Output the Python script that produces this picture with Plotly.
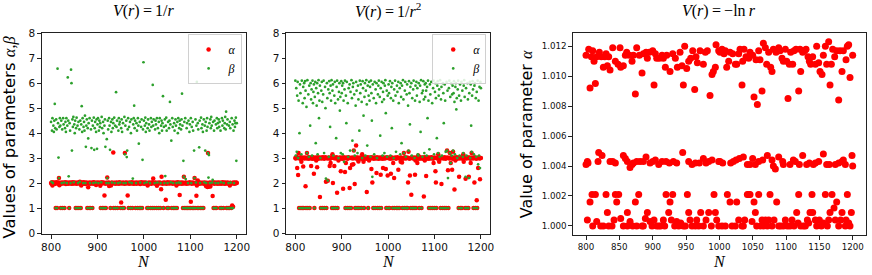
import plotly.graph_objects as go

# ---------------- data ----------------
N = list(range(800, 1201))

# Panel 1: V(r) = 1/r
alpha_inv_r = [
 2.0,1.97,2.03,1.9,2.0,1.98,2.02,2.0,1.96,2.01,1.0,2.0,2.03,1.0,1.98,2.0,2.02,2.2,1.91,2.0,
 2.0,1.0,1.97,2.02,2.0,1.0,2.01,1.98,2.0,1.0,2.03,2.0,1.96,2.0,2.02,1.99,2.0,1.97,2.01,1.0,
 2.0,2.02,1.98,2.0,2.01,1.97,2.0,2.03,1.99,2.0,1.98,2.02,2.0,1.0,2.0,1.97,1.0,2.02,2.0,1.98,
 1.0,2.01,2.05,2.0,1.0,1.9,2.02,2.0,1.97,2.0,2.03,1.98,2.0,2.01,1.96,2.0,2.02,1.99,1.0,2.0,
 1.83,2.0,1.0,2.02,1.97,1.0,2.0,2.01,1.98,1.0,2.0,2.03,1.97,2.0,2.02,1.99,2.0,1.92,2.01,2.0,
 1.98,2.02,2.0,1.97,2.0,2.01,1.89,1.0,2.0,2.03,1.98,1.0,2.0,2.02,1.0,1.5,2.0,1.97,1.0,2.01,
 2.0,2.22,1.98,2.0,2.02,1.88,2.0,1.97,1.0,1.9,2.0,2.02,1.98,2.0,3.22,1.0,2.01,2.0,1.97,1.0,
 2.0,2.02,1.98,1.0,2.0,2.01,1.97,2.0,2.03,1.99,1.0,1.22,2.0,1.98,1.0,2.02,2.0,1.0,1.97,3.2,
 2.0,2.02,1.98,2.0,2.01,1.5,2.0,1.0,1.97,2.02,2.0,1.0,1.98,2.0,2.03,1.0,2.0,1.97,2.01,2.0,
 1.98,2.0,1.0,2.02,1.97,2.0,1.0,2.01,1.99,2.0,1.0,2.02,1.96,1.0,2.0,2.03,1.0,1.98,2.0,2.01,
 2.0,1.97,2.02,2.0,1.98,2.01,2.0,1.0,1.9,2.0,1.0,2.02,1.98,2.0,1.0,2.01,1.97,2.0,1.0,2.03,
 2.18,2.0,1.0,1.98,2.0,2.02,1.97,1.0,1.89,2.0,2.01,1.0,2.0,1.98,2.02,1.0,2.0,1.75,2.25,2.0,
 1.97,2.0,1.0,2.02,2.0,1.98,2.01,1.33,2.0,1.97,1.0,2.03,2.0,1.0,1.98,2.0,2.02,1.99,2.0,2.01,
 1.0,2.0,1.97,2.02,1.0,2.0,1.98,1.0,2.01,2.0,1.9,1.0,2.03,2.0,1.97,2.0,2.02,1.52,1.98,2.0,
 2.01,2.0,1.97,2.02,1.0,2.0,2.25,1.98,1.0,2.0,2.02,1.0,1.97,2.0,1.0,2.01,1.98,1.0,2.0,2.03,
 1.0,1.25,2.0,1.97,1.0,2.02,2.0,1.0,1.98,2.2,1.0,2.0,2.01,1.49,1.9,1.0,2.1,2.0,1.0,1.97,
 2.0,2.02,1.0,1.98,2.0,1.0,2.01,2.0,1.0,1.97,2.02,2.0,1.98,2.0,1.87,2.01,2.0,1.84,3.2,1.85,
 2.0,1.97,2.02,1.86,2.0,1.98,2.01,2.0,1.48,2.03,1.0,1.97,2.0,1.0,2.02,1.98,1.0,2.0,2.01,1.97,
 2.0,2.02,1.98,2.0,1.0,2.01,1.97,1.0,2.0,2.03,1.98,1.0,2.0,2.02,1.97,2.0,2.01,1.98,1.0,2.0,
 2.02,1.0,1.97,2.0,1.0,1.9,2.01,2.0,1.0,1.98,1.1,2.0,1.05,2.02,1.97,2.0,2.01,1.98,2.0,2.02,
 2.0,
]
beta_inv_r = [
 4.45,2.05,4.1,4.6,2.0,4.3,4.05,4.5,5.17,4.2,1.0,4.55,4.15,1.0,6.58,4.4,3.02,2.2,4.25,4.6,
 4.3,1.0,4.5,2.0,4.15,1.0,4.6,4.35,2.02,1.0,4.2,4.45,4.05,4.6,2.0,4.3,6.23,4.5,2.27,1.0,
 4.4,4.1,2.0,6.54,6.0,3.3,4.55,4.25,4.65,2.03,4.35,4.0,4.5,1.0,4.2,4.62,1.0,4.3,2.0,4.45,
 1.0,4.15,2.05,4.5,1.0,4.35,5.08,4.05,4.6,2.0,4.25,4.45,4.1,4.7,2.0,3.45,4.3,4.55,1.0,4.2,
 3.79,4.4,1.0,4.6,2.0,1.0,4.15,3.4,4.5,1.0,4.3,2.0,4.62,3.33,4.2,4.45,2.02,4.05,4.55,3.37,
 4.35,4.6,2.0,4.1,4.5,4.25,4.4,1.0,2.03,4.65,4.2,1.0,4.45,4.0,1.0,4.3,4.55,3.45,1.0,2.0,
 3.76,2.2,4.5,4.15,2.0,4.6,4.3,3.33,1.0,4.45,4.05,2.02,4.55,4.2,4.4,1.0,4.62,2.0,4.3,1.0,
 5.64,4.25,4.5,1.0,2.0,4.1,4.6,4.35,4.45,2.02,1.0,4.2,4.55,4.05,1.0,4.4,2.0,1.0,4.65,3.15,
 4.3,2.0,4.5,3.04,3.3,4.15,4.6,1.0,4.25,2.03,4.45,1.0,4.0,4.55,2.0,1.0,2.18,4.35,4.6,5.1,
 4.2,4.5,1.0,2.0,4.4,4.1,1.0,4.6,4.3,3.58,1.0,4.45,2.02,1.0,4.25,4.55,1.0,2.93,4.15,6.84,
 4.5,2.0,4.3,4.62,4.05,4.4,2.03,1.0,4.2,4.55,1.0,4.35,4.1,2.0,1.0,4.6,4.25,4.45,1.0,5.93,
 4.3,4.55,1.0,2.0,4.15,4.5,4.35,1.0,4.6,2.02,4.2,1.0,4.45,4.0,4.6,1.0,2.0,4.3,4.5,4.1,
 4.4,5.48,1.0,4.25,2.0,4.55,2.28,4.3,4.62,4.1,1.0,2.0,4.45,1.0,4.2,4.5,5.25,4.35,2.03,3.7,
 1.0,4.6,4.25,2.0,1.0,4.4,4.1,1.0,4.55,4.3,2.0,1.0,4.45,4.0,4.6,2.02,4.2,4.5,4.35,2.0,
 4.15,4.55,5.58,4.3,1.0,2.89,2.25,4.45,1.0,4.6,2.16,1.0,4.2,4.4,1.0,2.0,4.5,1.0,4.05,4.35,
 1.0,4.6,2.0,4.25,1.0,4.45,4.1,1.0,3.3,2.2,1.0,4.55,2.02,4.3,6.05,1.0,4.4,4.15,1.0,3.43,
 4.5,2.0,1.0,4.62,4.2,1.0,4.35,4.05,1.0,4.55,2.03,4.3,3.3,4.45,2.0,4.1,4.6,4.25,3.2,2.22,
 3.12,4.4,2.0,4.55,4.2,4.65,4.3,2.02,2.13,4.45,1.0,4.1,4.5,1.0,2.0,4.35,1.0,4.6,4.2,4.4,
 2.0,4.55,4.25,4.45,1.0,4.1,2.03,1.0,4.6,4.3,4.5,1.0,2.0,4.2,4.4,4.65,4.15,4.86,1.0,4.35,
 4.55,1.0,2.0,4.3,1.0,4.45,4.2,2.02,1.0,4.6,1.0,4.35,1.0,4.1,2.0,4.5,4.25,4.4,4.62,2.89,
 4.4,
]

# Panel 2: V(r) = 1/r^2
alpha_inv_r2 = [
 3.0,2.98,3.02,3.05,2.6,3.0,2.32,3.2,1.0,3.0,2.97,3.03,1.0,2.85,3.0,1.0,3.02,2.66,1.0,2.98,
 3.0,3.02,1.87,1.0,2.98,3.2,3.0,1.0,3.03,2.97,3.0,1.0,3.02,3.0,2.68,2.98,3.0,3.04,2.97,3.0,
 2.37,1.0,3.0,3.02,2.98,2.9,3.0,2.63,3.03,3.0,2.97,3.0,3.02,1.44,3.0,1.0,2.98,3.0,3.03,1.0,
 3.0,3.02,2.97,1.0,3.0,3.03,2.05,1.0,3.0,2.98,2.09,3.0,3.02,3.0,2.68,2.97,2.8,3.0,3.03,1.0,
 3.15,2.0,3.0,1.0,2.68,3.02,2.98,1.0,3.0,3.03,1.61,1.0,3.0,2.9,2.97,3.0,3.02,3.0,2.47,2.98,
 3.0,3.02,2.97,1.77,3.0,3.03,2.98,2.44,1.0,2.8,3.0,3.02,1.0,2.97,3.0,3.03,1.0,1.8,2.6,3.0,
 1.0,3.0,2.73,3.02,2.98,2.75,3.3,3.0,1.96,1.0,3.03,3.5,2.97,1.0,3.0,3.02,2.86,1.0,3.0,2.98,
 3.0,3.02,1.0,2.97,3.15,3.0,3.03,2.85,1.0,3.0,2.98,3.02,3.0,2.97,1.64,3.0,3.03,1.0,3.0,2.9,
 3.0,3.02,2.98,3.0,2.56,3.03,2.02,3.0,1.0,2.97,3.0,3.02,1.0,3.0,2.98,2.4,3.03,1.0,3.0,2.97,
 3.0,1.0,3.02,2.98,2.33,1.0,3.0,3.03,2.97,2.6,3.0,3.02,3.0,2.98,3.0,2.56,1.0,3.03,3.0,2.3,
 1.0,3.0,3.02,1.0,2.97,3.0,2.37,3.03,3.0,2.98,1.0,2.8,3.0,2.2,1.0,3.02,3.0,2.97,1.0,3.0,
 3.03,1.0,2.53,3.0,1.0,2.98,3.0,2.85,3.02,3.0,2.82,1.0,2.97,3.0,3.2,1.0,3.03,3.0,2.98,1.0,
 3.0,3.02,1.0,2.02,3.25,3.0,2.97,2.3,3.0,1.0,1.53,3.03,3.0,1.0,2.98,3.0,1.0,3.02,2.33,2.9,
 1.0,3.0,3.02,2.8,3.0,3.1,2.97,1.0,3.03,3.0,2.98,3.0,1.0,3.02,3.0,2.97,3.0,1.46,3.03,2.9,
 3.0,3.02,2.28,2.98,3.0,3.03,3.0,2.97,1.0,3.0,3.02,2.98,1.0,3.0,3.03,3.0,1.0,2.97,2.8,3.0,
 1.0,3.02,2.47,2.02,1.0,3.0,2.98,3.0,3.15,3.03,2.85,3.0,2.97,1.0,3.0,1.96,3.02,1.0,3.0,2.98,
 3.0,1.0,3.03,3.0,2.97,1.0,3.0,3.3,3.02,2.51,1.0,3.0,2.98,3.2,3.0,2.8,3.03,3.0,2.53,2.97,
 3.25,3.0,3.02,1.74,2.98,2.9,3.0,3.03,3.0,2.97,3.0,3.02,1.0,2.25,3.0,2.98,1.0,3.03,3.0,1.0,
 3.0,2.97,3.15,2.85,3.0,3.02,1.0,2.17,3.0,2.98,1.0,3.03,3.0,1.0,2.25,3.0,3.02,2.97,2.8,3.0,
 3.2,3.0,3.02,2.98,1.0,3.0,2.02,3.03,1.0,3.0,2.97,1.31,1.0,3.0,2.6,3.02,3.0,2.98,2.15,3.0,
 3.0,
]
beta_inv_r2 = [
 6.1,3.1,5.8,3.25,5.5,6.05,3.0,5.3,1.0,4.0,5.95,5.6,1.0,3.15,6.1,1.0,5.2,5.85,1.0,6.0,
 5.4,6.08,5.7,1.0,5.05,3.2,6.12,1.0,5.55,3.05,5.9,1.0,4.3,6.0,5.35,5.75,3.1,6.1,5.2,5.65,
 5.95,1.0,5.45,6.05,3.6,5.8,5.1,6.0,3.15,5.6,6.12,4.6,5.3,5.9,3.0,1.0,5.7,6.05,5.25,1.0,
 5.55,6.1,3.2,1.0,5.85,5.0,2.18,1.0,6.0,5.4,2.1,5.75,3.05,6.08,5.6,4.25,5.9,5.3,6.12,1.0,
 5.7,5.95,3.1,1.0,5.5,6.05,5.2,1.0,3.8,5.85,6.1,1.0,5.35,3.0,5.65,6.0,4.9,5.45,3.2,6.08,
 5.6,5.9,3.15,6.0,5.3,2.85,5.75,6.1,1.0,5.5,4.4,6.05,1.0,5.2,3.05,5.8,1.0,5.95,3.3,5.65,
 1.0,6.12,5.4,3.7,5.85,6.0,3.3,5.55,3.1,1.0,5.1,6.05,5.7,1.0,3.2,5.9,5.35,1.0,4.1,6.1,
 5.6,5.95,1.0,5.25,3.0,6.08,5.8,4.7,1.0,5.45,6.0,3.1,5.7,6.12,5.15,3.5,5.9,1.0,5.5,6.05,
 5.3,5.85,3.05,6.1,5.6,4.5,2.25,5.95,1.0,5.4,3.15,6.05,1.0,5.75,5.2,6.0,3.0,1.0,5.55,5.9,
 6.1,1.0,5.45,3.9,5.8,1.0,6.05,5.25,3.1,5.65,6.0,5.35,3.2,5.9,6.12,4.8,1.0,5.7,3.05,5.5,
 1.0,5.95,5.6,1.0,6.08,3.1,5.4,5.85,4.2,6.0,1.0,5.3,3.0,5.75,1.0,6.1,5.5,3.25,1.0,5.9,
 5.65,1.0,6.05,5.2,1.0,5.8,3.15,6.0,5.45,3.6,5.9,1.0,6.12,5.35,3.2,1.0,5.7,6.05,3.05,1.0,
 5.55,5.95,1.0,5.1,3.3,6.08,5.6,4.35,5.85,1.0,6.0,3.1,5.4,1.0,5.75,6.1,1.0,3.0,5.3,5.9,
 1.0,6.05,5.5,5.8,3.15,3.1,6.0,1.0,5.25,5.9,4.05,6.12,1.0,5.6,3.05,5.7,6.08,5.35,3.2,5.95,
 5.45,6.0,5.7,3.1,5.85,4.6,6.1,5.3,1.0,3.35,5.95,5.55,1.0,6.05,3.0,5.2,1.0,5.8,6.1,3.15,
 1.0,5.65,6.0,5.4,1.0,3.8,5.9,6.08,3.2,5.5,5.75,3.05,6.12,1.0,5.35,5.85,3.1,1.0,6.0,5.6,
 4.4,1.0,5.95,5.3,3.25,1.0,6.05,3.3,5.7,2.2,1.0,5.8,6.1,3.2,5.45,2.8,6.0,3.1,5.55,5.9,
 3.3,5.6,6.08,5.25,3.15,5.85,6.0,4.95,5.4,3.0,5.75,6.1,1.0,5.5,3.1,5.95,1.0,5.3,6.05,1.0,
 5.7,3.05,3.2,5.9,6.12,5.45,1.0,2.25,5.8,3.1,1.0,6.0,5.35,1.0,2.2,5.6,6.05,3.0,5.95,4.3,
 3.25,5.5,6.08,5.75,1.0,3.15,5.9,6.0,1.0,5.4,3.05,5.65,1.0,6.1,2.75,5.3,3.1,5.85,2.6,6.05,
 5.8,
]

# Panel 3: V(r) = -ln r   (N, alpha) pairs
ln_upper = [
 (800,1.0114),(804,1.0118),(806,1.0092),(808,1.0113),(810,1.0117),(812,1.0110),(814,1.0095),(816,1.0113),
 (820,1.0116),(823,1.0113),(826,1.0106),(828,1.0113),(830,1.0115),(832,1.0107),(834,1.0113),(836,1.0104),
 (840,1.0119),(844,1.0110),(848,1.0108),(851,1.0119),(852,1.0106),(856,1.0107),(859,1.0114),(861,1.0116),
 (865,1.0114),(869,1.0110),(871,1.0114),(874,1.0088),(876,1.0119),(880,1.0114),(884,1.0102),(886,1.0115),
 (890,1.0116),(892,1.0112),(895,1.0116),(900,1.0117),(902,1.0094),(904,1.0115),(906,1.0112),(910,1.0112),
 (914,1.0114),(916,1.0112),(919,1.0106),(921,1.0114),(926,1.0103),(930,1.0115),(934,1.0112),(937,1.0106),
 (941,1.0116),(944,1.0107),(946,1.0094),(948,1.0120),(951,1.0105),(954,1.0110),(957,1.0112),(960,1.0117),
 (963,1.0091),(965,1.0113),(967,1.0109),(971,1.0117),(976,1.0108),(979,1.0116),(982,1.0117),(986,1.0087),
 (989,1.0101),(991,1.0103),(994,1.0106),(995,1.0121),(999,1.0117),(1001,1.0116),(1004,1.0118),(1007,1.0115),
 (1009,1.0117),(1011,1.0106),(1014,1.0110),(1016,1.0116),(1020,1.0115),(1024,1.0108),(1026,1.0108),(1029,1.0115),
 (1031,1.0118),(1034,1.0094),(1035,1.0110),(1037,1.0118),(1040,1.0113),(1044,1.0112),(1046,1.0116),(1050,1.0114),
 (1052,1.0086),(1055,1.0111),(1057,1.0081),(1059,1.0117),(1061,1.0111),(1064,1.0090),(1066,1.0122),(1069,1.0119),
 (1071,1.0108),(1074,1.0116),(1077,1.0106),(1079,1.0103),(1081,1.0118),(1085,1.0116),(1089,1.0119),(1091,1.0117),
 (1094,1.0112),(1096,1.0110),(1099,1.0118),(1101,1.0110),(1103,1.0085),(1105,1.0108),(1107,1.0116),(1110,1.0108),
 (1112,1.0117),(1115,1.0118),(1119,1.0090),(1121,1.0118),(1122,1.0103),(1125,1.0116),(1128,1.0117),(1130,1.0118),
 (1133,1.0113),(1135,1.0110),(1137,1.0108),(1140,1.0113),(1144,1.0108),(1146,1.0120),(1149,1.0109),(1151,1.0103),
 (1154,1.0101),(1156,1.0114),(1159,1.0120),(1161,1.0108),(1164,1.0123),(1166,1.0094),(1168,1.0108),(1170,1.0118),
 (1173,1.0113),(1176,1.0117),(1179,1.0084),(1181,1.0117),(1184,1.0103),(1186,1.0117),(1190,1.0111),(1192,1.0120),
 (1194,1.0121),(1196,1.0099),(1200,1.0114),
]
ln_middle = [
 (800,1.0041),(802,1.0043),(803,1.0042),(818,1.0043),(819,1.0049),(824,1.0047),(836,1.0043),(840,1.0043),
 (844,1.0042),(856,1.0047),(859,1.0045),(862,1.0043),(866,1.0039),(869,1.0041),(871,1.0042),(876,1.0043),
 (881,1.0043),(886,1.0043),(890,1.0046),(896,1.0042),(900,1.0043),(904,1.0044),(909,1.0041),(914,1.0043),
 (920,1.0043),(925,1.0042),(931,1.0043),(936,1.0042),(945,1.0049),(954,1.0043),(959,1.0041),(964,1.0042),
 (970,1.0042),(976,1.0045),(980,1.0042),(984,1.0043),(989,1.0044),(999,1.0043),(1001,1.0043),(1005,1.0042),
 (1017,1.0042),(1021,1.0043),(1025,1.0044),(1030,1.0045),(1036,1.0046),(1042,1.0041),(1046,1.0041),(1050,1.0045),
 (1054,1.0041),(1059,1.0043),(1065,1.0044),(1072,1.0047),(1079,1.0044),(1081,1.0040),(1084,1.0038),(1089,1.0046),
 (1095,1.0043),(1096,1.0041),(1106,1.0041),(1111,1.0044),(1114,1.0043),(1120,1.0041),(1125,1.0047),(1131,1.0041),
 (1135,1.0042),(1141,1.0041),(1144,1.0042),(1149,1.0043),(1156,1.0048),(1161,1.0041),(1165,1.0041),(1174,1.0041),
 (1179,1.0042),(1184,1.0043),(1186,1.0044),(1189,1.0041),(1199,1.0047),(1200,1.0040),
]
ln_lower = [
 (802,1.0004),(806,1.0016),(809,1.0021),(810,1.0000),(814,1.0021),(816,1.0003),(822,1.0000),(826,1.0000),
 (830,1.0021),(832,1.0009),(834,1.0000),(839,1.0000),(842,1.0004),(844,1.0021),(846,1.0016),(849,1.0021),
 (852,1.0005),(856,1.0000),(862,1.0000),(862,1.0009),(866,1.0003),(870,1.0000),(874,1.0016),(876,1.0000),
 (879,1.0021),(884,1.0000),(886,1.0000),(889,1.0005),(892,1.0009),(896,1.0003),(899,1.0000),(902,1.0004),
 (906,1.0000),(909,1.0000),(912,1.0000),(916,1.0004),(918,1.0000),(920,1.0021),(924,1.0009),(926,1.0016),
 (928,1.0004),(930,1.0021),(933,1.0000),(936,1.0003),(939,1.0000),(942,1.0002),(946,1.0000),(949,1.0000),
 (952,1.0021),(954,1.0009),(956,1.0004),(959,1.0000),(964,1.0000),(966,1.0004),(969,1.0000),(972,1.0009),
 (976,1.0000),(980,1.0004),(984,1.0009),(988,1.0000),(992,1.0021),(994,1.0009),(996,1.0004),(999,1.0000),
 (1004,1.0000),(1009,1.0000),(1012,1.0021),(1016,1.0016),(1019,1.0000),(1024,1.0000),(1026,1.0016),(1029,1.0004),
 (1034,1.0000),(1036,1.0000),(1038,1.0004),(1042,1.0021),(1044,1.0021),(1046,1.0021),(1049,1.0003),(1052,1.0016),
 (1054,1.0009),(1056,1.0000),(1059,1.0021),(1062,1.0000),(1064,1.0004),(1066,1.0000),(1069,1.0004),(1072,1.0000),
 (1074,1.0004),(1076,1.0021),(1079,1.0000),(1082,1.0004),(1086,1.0016),(1089,1.0000),(1092,1.0000),(1096,1.0000),
 (1099,1.0004),(1102,1.0000),(1106,1.0000),(1109,1.0004),(1112,1.0000),(1116,1.0009),(1118,1.0002),(1119,1.0021),
 (1122,1.0000),(1126,1.0000),(1129,1.0000),(1132,1.0004),(1134,1.0002),(1136,1.0009),(1139,1.0021),(1140,1.0009),
 (1144,1.0004),(1146,1.0000),(1150,1.0004),(1153,1.0000),(1156,1.0002),(1159,1.0021),(1162,1.0000),(1164,1.0004),
 (1166,1.0009),(1169,1.0021),(1172,1.0012),(1174,1.0004),(1176,1.0016),(1179,1.0000),(1182,1.0004),(1184,1.0009),
 (1189,1.0000),(1190,1.0004),(1192,1.0021),(1194,1.0002),(1196,1.0000),(1198,1.0009),
]

titles = ["<i>V</i>(<i>r</i>)&#8201;=&#8201;1/<i>r</i>",
          "<i>V</i>(<i>r</i>)&#8201;=&#8201;1/<i>r</i><sup>2</sup>",
          "<i>V</i>(<i>r</i>)&#8201;=&#8201;&#8722;ln&#8201;<i>r</i>"]
xticks_12 = [800, 900, 1000, 1100, 1200]
yticks_12 = [0, 1, 2, 3, 4, 5, 6, 7, 8]
xticks_3 = [800, 850, 900, 950, 1000, 1050, 1100, 1150, 1200]
yticks_3 = [1.000, 1.002, 1.004, 1.006, 1.008, 1.010, 1.012]

# ---------------- figure ----------------
W, H = 872, 275
RED = "#ff0000"
GREEN = "#2ca02c"
SERIF = "Liberation Serif"
SANS = "DejaVu Sans"

def px(x):
    return x / W

def py(y):
    return 1 - y / H

ln_pts = ln_upper + ln_middle + ln_lower
ln_N = [p[0] for p in ln_pts]
ln_alpha = [p[1] for p in ln_pts]

fig = go.Figure()
fig.add_trace(go.Scatter(x=N, y=alpha_inv_r, mode="markers", name="<i>α</i>",
                         marker=dict(color=RED, size=4.5, line=dict(width=0)),
                         xaxis="x", yaxis="y", legend="legend"))
fig.add_trace(go.Scatter(x=N, y=beta_inv_r, mode="markers", name="<i>β</i>",
                         marker=dict(color=GREEN, size=2.7, line=dict(width=0)),
                         xaxis="x", yaxis="y", legend="legend"))
fig.add_trace(go.Scatter(x=N, y=alpha_inv_r2, mode="markers", name="<i>α</i>",
                         marker=dict(color=RED, size=4.5, line=dict(width=0)),
                         xaxis="x2", yaxis="y2", legend="legend2"))
fig.add_trace(go.Scatter(x=N, y=beta_inv_r2, mode="markers", name="<i>β</i>",
                         marker=dict(color=GREEN, size=2.7, line=dict(width=0)),
                         xaxis="x2", yaxis="y2", legend="legend2"))
fig.add_trace(go.Scatter(x=ln_N, y=ln_alpha, mode="markers", showlegend=False,
                         marker=dict(color=RED, size=7, line=dict(width=0)),
                         xaxis="x3", yaxis="y3"))

ax = dict(showline=True, linecolor="#222", linewidth=0.9, mirror=True,
          ticks="outside", ticklen=3.5, tickwidth=0.9, tickcolor="#222",
          showgrid=False, zeroline=False)
tf12 = dict(family=SANS, size=10.5, color="#111")
tf3 = dict(family=SANS, size=8.7, color="#111")

leg = dict(xanchor="right", yanchor="top",
           bgcolor="rgba(255,255,255,0.85)", bordercolor="#d0d0d0", borderwidth=1,
           font=dict(family=SERIF, size=12, color="#000"), itemwidth=30,
           tracegroupgap=0)

dom_y12 = [py(237), py(28.3)]
fig.update_layout(
    width=W, height=H, autosize=False,
    margin=dict(l=0, r=0, t=0, b=0, pad=0),
    paper_bgcolor="white", plot_bgcolor="white",
    xaxis=dict(ax, domain=[px(41), px(246.5)], range=[780, 1220], tickvals=xticks_12,
               tickfont=tf12, anchor="y"),
    yaxis=dict(ax, domain=dom_y12, range=[-0.055, 8.0], tickvals=yticks_12,
               tickfont=tf12, anchor="x"),
    xaxis2=dict(ax, domain=[px(286.7), px(492)], range=[780, 1220], tickvals=xticks_12,
                tickfont=tf12, anchor="y2"),
    yaxis2=dict(ax, domain=dom_y12, range=[-0.055, 8.0], tickvals=yticks_12,
                tickfont=tf12, anchor="x2"),
    xaxis3=dict(ax, domain=[px(575), px(870)], range=[780, 1220], tickvals=xticks_3,
                tickfont=tf3, anchor="y3"),
    yaxis3=dict(ax, domain=[py(237.7), py(28.3)], range=[0.99939, 1.01286],
                tickvals=yticks_3, tickformat=".3f", tickfont=tf3, anchor="x3"),
    legend=dict(leg, x=px(242), y=py(29)),
    legend2=dict(leg, x=px(488), y=py(29)),
    showlegend=True,
)

ann = []
centers = [(41 + 246.5) / 2, (286.7 + 492) / 2, (575 + 870) / 2]
for cx, t in zip(centers, titles):
    ann.append(dict(text=t, x=px(cx), y=py(5), xref="paper", yref="paper",
                    xanchor="center", yanchor="middle", showarrow=False,
                    font=dict(family=SERIF, size=16, color="#000")))
    ann.append(dict(text="<i>N</i>", x=px(cx), y=py(265.5), xref="paper", yref="paper",
                    xanchor="center", yanchor="middle", showarrow=False,
                    font=dict(family=SERIF, size=16, color="#000")))
ann.append(dict(text="Values of parameters <span style='font-family:Liberation Serif'><i>α</i>,<i>β</i></span>",
                x=px(8.5), y=py(136), xref="paper", yref="paper", textangle=-90,
                xanchor="center", yanchor="middle", showarrow=False,
                font=dict(family=SANS, size=16.5, color="#000")))
ann.append(dict(text="Value of parameter <span style='font-family:Liberation Serif'><i>α</i></span>",
                x=px(528), y=py(133), xref="paper", yref="paper", textangle=-90,
                xanchor="center", yanchor="middle", showarrow=False,
                font=dict(family=SANS, size=16, color="#000")))
fig.update_layout(annotations=ann)

fig.write_html("out.html", config={"displayModeBar": False},
               post_script="document.body.style.margin='0px';document.body.style.overflow='hidden';")
